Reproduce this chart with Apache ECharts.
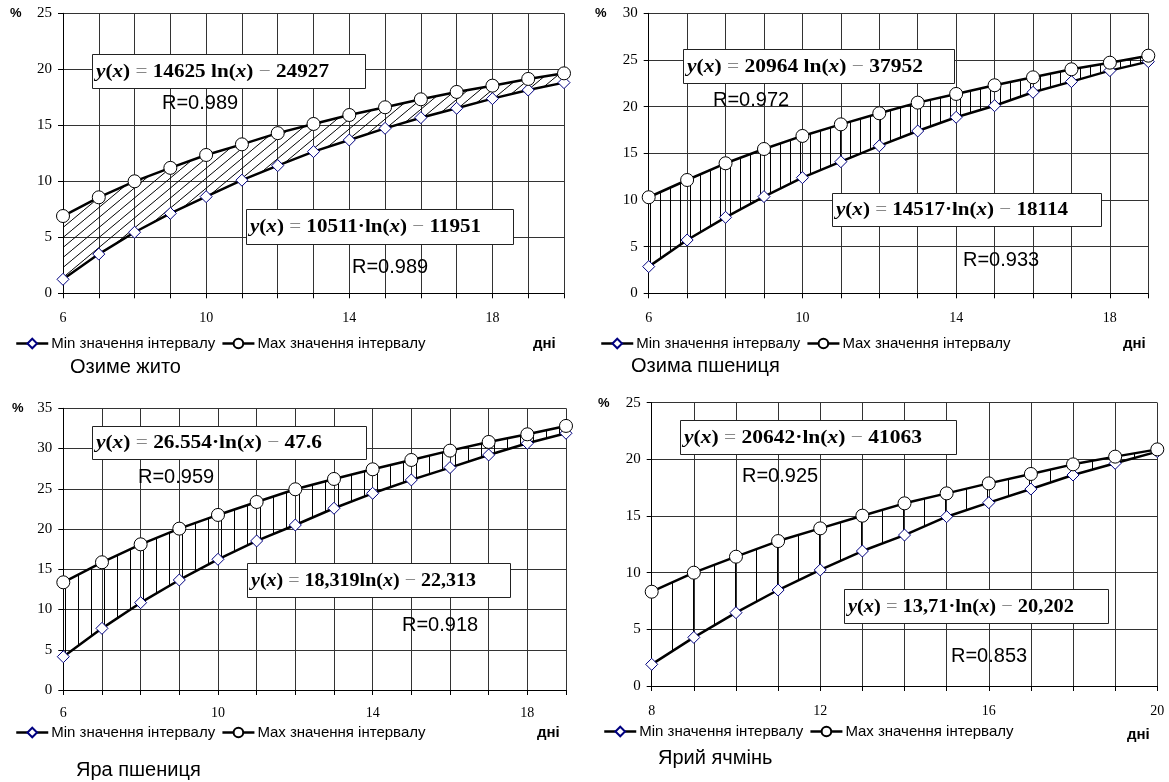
<!DOCTYPE html>
<html><head><meta charset="utf-8">
<script src="https://cdn.jsdelivr.net/npm/echarts@6/dist/echarts.min.js"></script>
<style>html,body{margin:0;padding:0;background:#fff}#c{width:1169px;height:782px}</style>
</head><body><div id="c"></div>
<script>
// ---------- DATA ----------
const days1 = [6,7,8,9,10,11,12,13,14,15,16,17,18,19,20];
const min1  = [1.25,3.5,5.45,7.14,8.63,10.1,11.4,12.65,13.69,14.73,15.68,16.52,17.38,18.15,18.81];
const max1  = [6.9,8.57,10.0,11.2,12.35,13.3,14.3,15.12,15.92,16.61,17.32,17.98,18.54,19.14,19.64];

const days2 = [6,7,8,9,10,11,12,13,14,15,16,17,18,19];
const min2  = [2.86,5.71,8.14,10.36,12.39,14.1,15.8,17.39,18.86,20.1,21.54,22.68,23.86,24.82];
const max2  = [10.29,12.14,13.93,15.46,16.86,18.1,19.29,20.43,21.36,22.29,23.14,24.0,24.71,25.46];

const days3 = [6,7,8,9,10,11,12,13,14,15,16,17,18,19];
const min3  = [4.14,7.66,10.85,13.67,16.24,18.52,20.5,22.58,24.44,26.1,27.63,29.2,30.65,31.9];
const max3  = [13.38,15.87,18.1,20.05,21.75,23.36,24.94,26.22,27.42,28.58,29.74,30.82,31.77,32.81];

const days4 = [8,9,10,11,12,13,14,15,16,17,18,19,20];
const min4  = [1.91,4.29,6.47,8.47,10.24,11.91,13.32,14.94,16.18,17.38,18.62,19.65,20.68];
const max4  = [8.32,10.0,11.41,12.79,13.91,15.03,16.12,17.0,17.88,18.71,19.56,20.24,20.88];

const xMin = [6,6,6,8];
const xMax = [20,19,19,20];
const yMax = [25,30,35,25];
const titles = ['Озиме жито','Озима пшениця','Яра пшениця','Ярий ячмінь'];
const minName = 'Min значення інтервалу';
const maxName = 'Max значення інтервалу';
const xName = 'дні';
const yName = '%';
// equations: [coefficient, separator, constant]
const eqTop = [['14625',' ','24927'],['20964',' ','37952'],['26.554','·','47.6'],['20642','·','41063']];
const eqBot = [['10511','·','11951'],['14517','·','18114'],['18,319','','22,313'],['13,71','·','20,202']];
const rTop = ['R=0.989','R=0.972','R=0.959','R=0.925'];
const rBot = ['R=0.989','R=0.933','R=0.918','R=0.853'];

// ---------- LAYOUT ----------
const grids = [
  {left:63, top:13.3, width:501, height:280},
  {left:648.7, top:13.3, width:499.6, height:280},
  {left:63.3, top:408.3, width:502.7, height:281.7},
  {left:651.7, top:402.7, width:505.6, height:283.3}
];
const xLabelMargin = [18,18,16,18];
const boxTop = [[92,54,273,34],[683,49,271,34],[92,426,274,33],[680,420,276,34]];
const boxBot = [[246,209,267,35],[832,193,269,33],[247,563,263,34],[844,589,264,34]];
const textWTop = [233,236,226,238];
const textWBot = [231,232,225,226];
const rTopPos = [[162,103],[713,100],[138,477],[742,476]];
const rBotPos = [[352,267],[963,260],[402,625],[951,656]];
const legendPos = [[15,336],[600,336],[15,725],[603,724]];
const xNamePos = [[533,344],[1123,344],[537,733],[1127,735]];
const titlePos = [[70,367],[631,366],[76,770],[658,758]];
const pctPos = [[10,13],[595,13],[12,408],[598,403]];

// ---------- PATTERNS ----------
function hatchDiag(){
  const c=document.createElement('canvas'); c.width=12; c.height=10;
  const g=c.getContext('2d'); g.strokeStyle='#000'; g.lineWidth=1;
  g.beginPath(); g.moveTo(-1.2,11); g.lineTo(13.2,-1); g.stroke();
  return c;
}
function hatchV(w){
  const c=document.createElement('canvas'); c.width=w; c.height=4;
  const g=c.getContext('2d'); g.fillStyle='#000'; g.fillRect(0,0,1,4);
  return c;
}
const patterns = [hatchDiag(), hatchV(10), hatchV(13), hatchV(21)];

// ---------- TEXT HELPERS ----------
const EQ_SIZE = 19;
const styles = {
  i:{fontFamily:'Liberation Serif', fontSize:EQ_SIZE, fontWeight:'bold', fontStyle:'italic', fill:'#000'},
  b:{fontFamily:'Liberation Serif', fontSize:EQ_SIZE, fontWeight:'bold', fill:'#000'},
  g:{fontFamily:'Liberation Serif', fontSize:EQ_SIZE, fontWeight:'normal', fill:'#888'}
};
function eqTokens(e){
  return [['i','y'],['b','('],['i','x'],['b',')'],['g',' = '],['b',e[0]+e[1]+'ln('],['i','x'],['b',')'],['g',' − '],['b',e[2]]];
}
const mctx = document.createElement('canvas').getContext('2d');
function measure(tokens){
  let w=0;
  tokens.forEach(([s,t])=>{
    const st=styles[s];
    mctx.font=(st.fontStyle||'normal')+' '+st.fontWeight+' '+st.fontSize+'px "'+st.fontFamily+'"';
    w+=mctx.measureText(t).width;
  });
  return w;
}
function eqGraphic(e, box, targetW){
  const tokens=eqTokens(e);
  const text=tokens.map(([s,t])=>'{'+s+'|'+t+'}').join('');
  const s=targetW/measure(tokens);
  return [
    {type:'rect', shape:{x:box[0]+0.5,y:box[1]+0.5,width:box[2],height:box[3]}, style:{fill:'#fff',stroke:'#222',lineWidth:1}, z:10},
    {type:'text', x:box[0]+4, y:box[1]+box[3]/2+1, scaleX:s, z:11, style:{text:text, rich:styles, verticalAlign:'middle', align:'left'}}
  ];
}

// ---------- BUILD ----------
const D = [[days1,min1,max1],[days2,min2,max2],[days3,min3,max3],[days4,min4,max4]];
const series=[], xAxis=[], yAxis=[], legend=[], elements=[];
D.forEach(([days,mn,mx],i)=>{
  const lo=xMin[i];
  xAxis.push({type:'value', gridIndex:i, min:xMin[i], max:xMax[i], interval:1,
    axisLine:{show:true,onZero:false,lineStyle:{color:'#000',width:1}},
    axisTick:{show:true,length:5,lineStyle:{color:'#000'}},
    axisLabel:{formatter:v=>((v-lo)%4===0?String(v):''), color:'#000', fontFamily:'Liberation Serif', fontSize:14, margin:xLabelMargin[i]},
    splitLine:{show:true,lineStyle:{color:'#333',width:1}}});
  yAxis.push({type:'value', gridIndex:i, min:0, max:yMax[i], interval:5,
    axisLine:{show:true,onZero:false,lineStyle:{color:'#000',width:1}},
    axisTick:{show:true,length:5,lineStyle:{color:'#000'}},
    axisLabel:{color:'#000', fontFamily:'Liberation Serif', fontSize:15, margin:11},
    splitLine:{show:true,lineStyle:{color:'#333',width:1}}});
  // hatched band between min and max, drawn through the axes' coord()
  const pat = patterns[i];
  series.push({type:'custom', xAxisIndex:i, yAxisIndex:i, silent:true, z:1,
    data:[[days[0], mn[0]]],
    renderItem:function(params, api){
      const pts=[];
      for(let j=0;j<days.length;j++) pts.push(api.coord([days[j], mx[j]]));
      for(let j=days.length-1;j>=0;j--) pts.push(api.coord([days[j], mn[j]]));
      return {type:'polygon', shape:{points:pts}, style:{fill:{image:pat, repeat:'repeat'}, stroke:null}};
    }});
  series.push({type:'line', name:minName, xAxisIndex:i, yAxisIndex:i, data:days.map((d,j)=>[d,mn[j]]),
    symbol:'diamond', symbolSize:12, lineStyle:{color:'#000',width:2.5},
    itemStyle:{color:'#fff',borderColor:'#000080',borderWidth:1}, z:3});
  series.push({type:'line', name:maxName, xAxisIndex:i, yAxisIndex:i, data:days.map((d,j)=>[d,mx[j]]),
    symbol:'circle', symbolSize:13, lineStyle:{color:'#000',width:2.5},
    itemStyle:{color:'#fff',borderColor:'#000',borderWidth:1}, z:4});
  legend.push({data:[minName,maxName], left:legendPos[i][0], top:legendPos[i][1], itemWidth:32, itemHeight:12,
    itemGap:6, padding:0, selectedMode:false,
    lineStyle:{width:2.5, color:'#000'},
    textStyle:{fontFamily:'Liberation Sans', fontSize:15, color:'#000', padding:[0,0,0,-2]}});
  elements.push(...eqGraphic(eqTop[i], boxTop[i], textWTop[i]));
  elements.push(...eqGraphic(eqBot[i], boxBot[i], textWBot[i]));
  elements.push({type:'text', x:rTopPos[i][0], y:rTopPos[i][1], z:12, style:{text:rTop[i], fontFamily:'Liberation Sans', fontSize:20, fill:'#000', verticalAlign:'middle'}});
  elements.push({type:'text', x:rBotPos[i][0], y:rBotPos[i][1], z:12, style:{text:rBot[i], fontFamily:'Liberation Sans', fontSize:20, fill:'#000', verticalAlign:'middle'}});
  elements.push({type:'text', x:xNamePos[i][0], y:xNamePos[i][1], style:{text:xName, fontFamily:'Liberation Sans', fontSize:15, fontWeight:'bold', fill:'#000', verticalAlign:'middle'}});
  elements.push({type:'text', x:titlePos[i][0], y:titlePos[i][1], style:{text:titles[i], fontFamily:'Liberation Sans', fontSize:20, fill:'#000', verticalAlign:'middle'}});
  elements.push({type:'text', x:pctPos[i][0], y:pctPos[i][1], style:{text:yName, fontFamily:'Liberation Sans', fontSize:13, fontWeight:'bold', fill:'#000', verticalAlign:'middle'}});
});

const chart = echarts.init(document.getElementById('c'), null, {renderer:'canvas'});
chart.setOption({
  animation:false,
  backgroundColor:'#fff',
  grid:grids,
  xAxis:xAxis, yAxis:yAxis,
  legend:legend,
  series:series,
  graphic:{elements:elements}
});
</script></body></html>
